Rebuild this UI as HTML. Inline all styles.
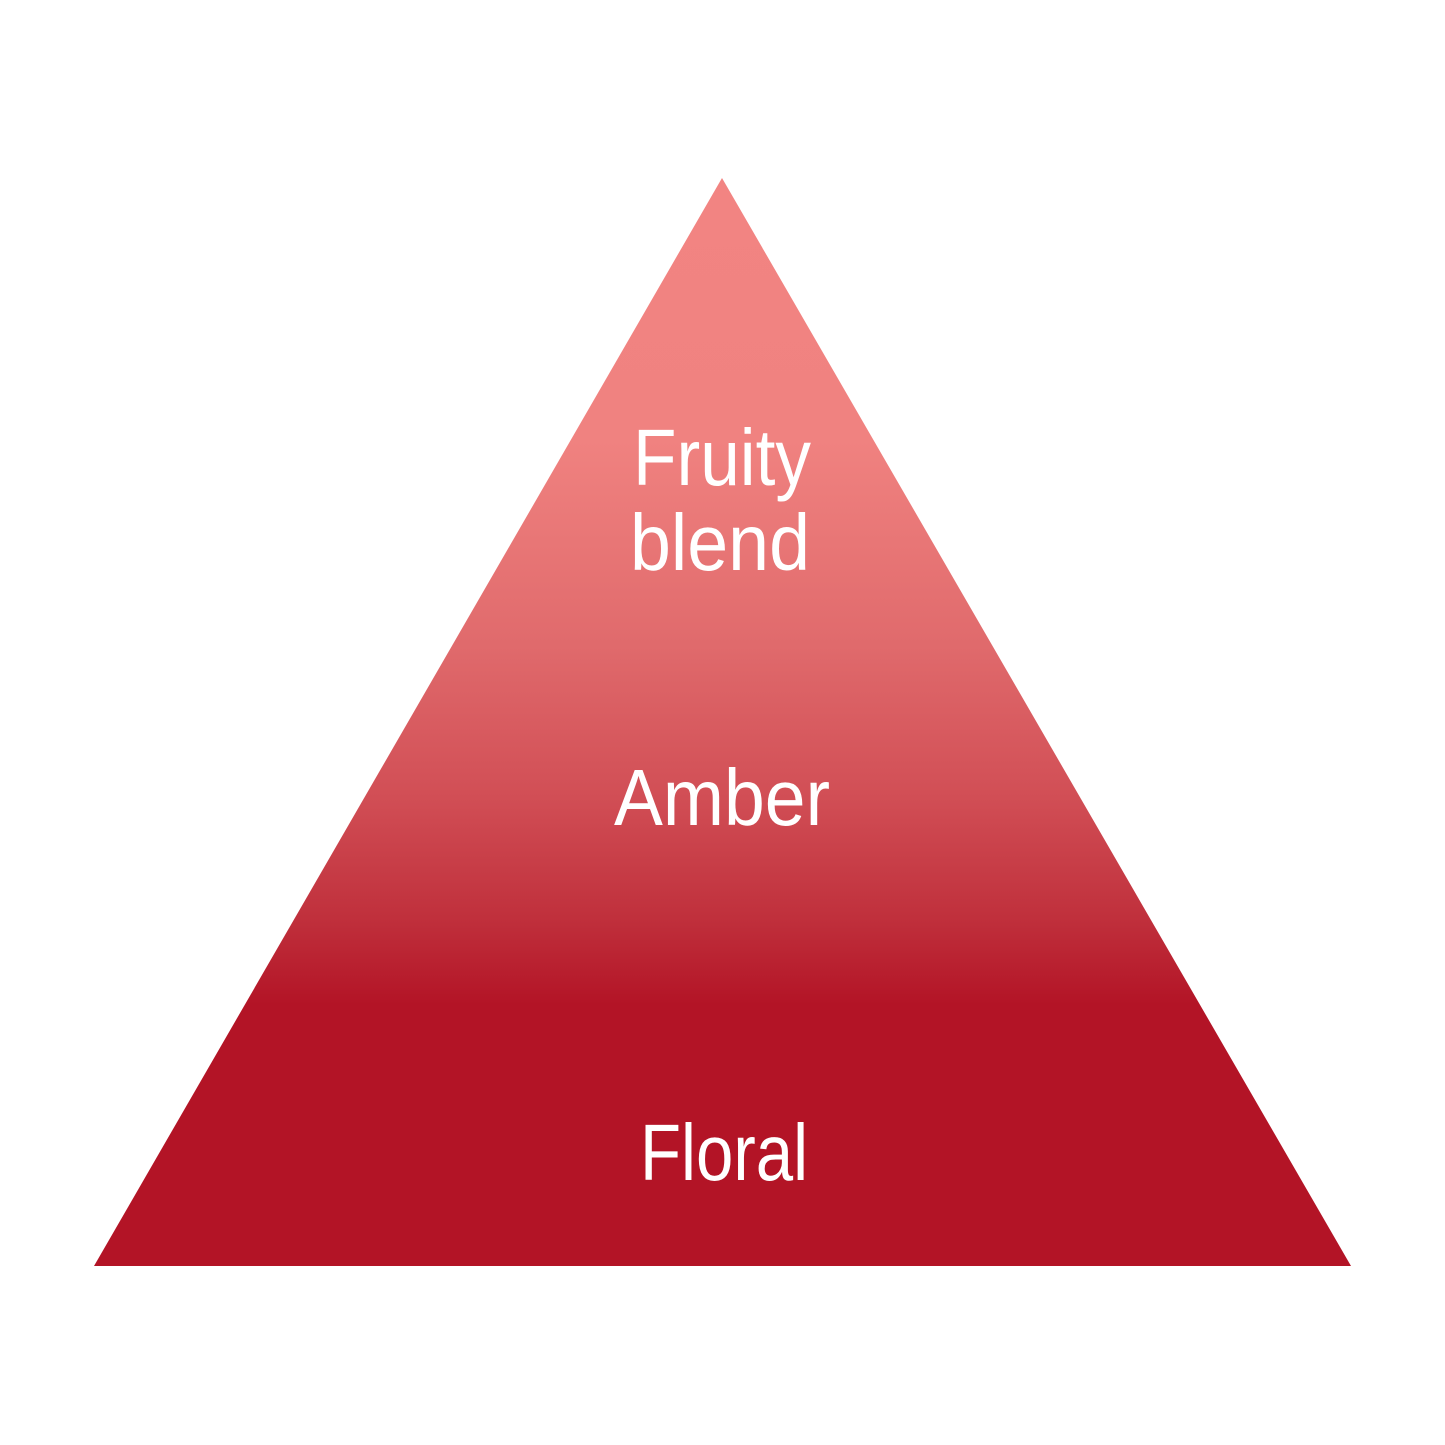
<!DOCTYPE html>
<html>
<head>
<meta charset="utf-8">
<style>
html,body{margin:0;padding:0;background:#fff;}
svg{display:block;}
</style>
</head>
<body>
<svg width="1445" height="1445" viewBox="0 0 1445 1445" xmlns="http://www.w3.org/2000/svg">
<defs>
<linearGradient id="g" x1="0" y1="178" x2="0" y2="1266" gradientUnits="userSpaceOnUse">
<stop offset="0" stop-color="#f28482"/>
<stop offset="0.24" stop-color="#f08280"/>
<stop offset="0.43" stop-color="#e06a6c"/>
<stop offset="0.57" stop-color="#d14e55"/>
<stop offset="0.68" stop-color="#c0303c"/>
<stop offset="0.76" stop-color="#b31426"/>
<stop offset="1" stop-color="#b31426"/>
</linearGradient>
</defs>
<polygon points="722,178 1351,1266 94,1266" fill="url(#g)"/>
<g fill="#fff" font-family="'Liberation Sans', sans-serif" font-size="80" text-anchor="middle">
<text x="722" y="485" textLength="178" lengthAdjust="spacingAndGlyphs">Fruity</text>
<text x="720" y="570" textLength="180" lengthAdjust="spacingAndGlyphs">blend</text>
<text x="722" y="825" textLength="216" lengthAdjust="spacingAndGlyphs">Amber</text>
<text x="724" y="1180" textLength="168" lengthAdjust="spacingAndGlyphs">Floral</text>
</g>
</svg>
</body>
</html>
